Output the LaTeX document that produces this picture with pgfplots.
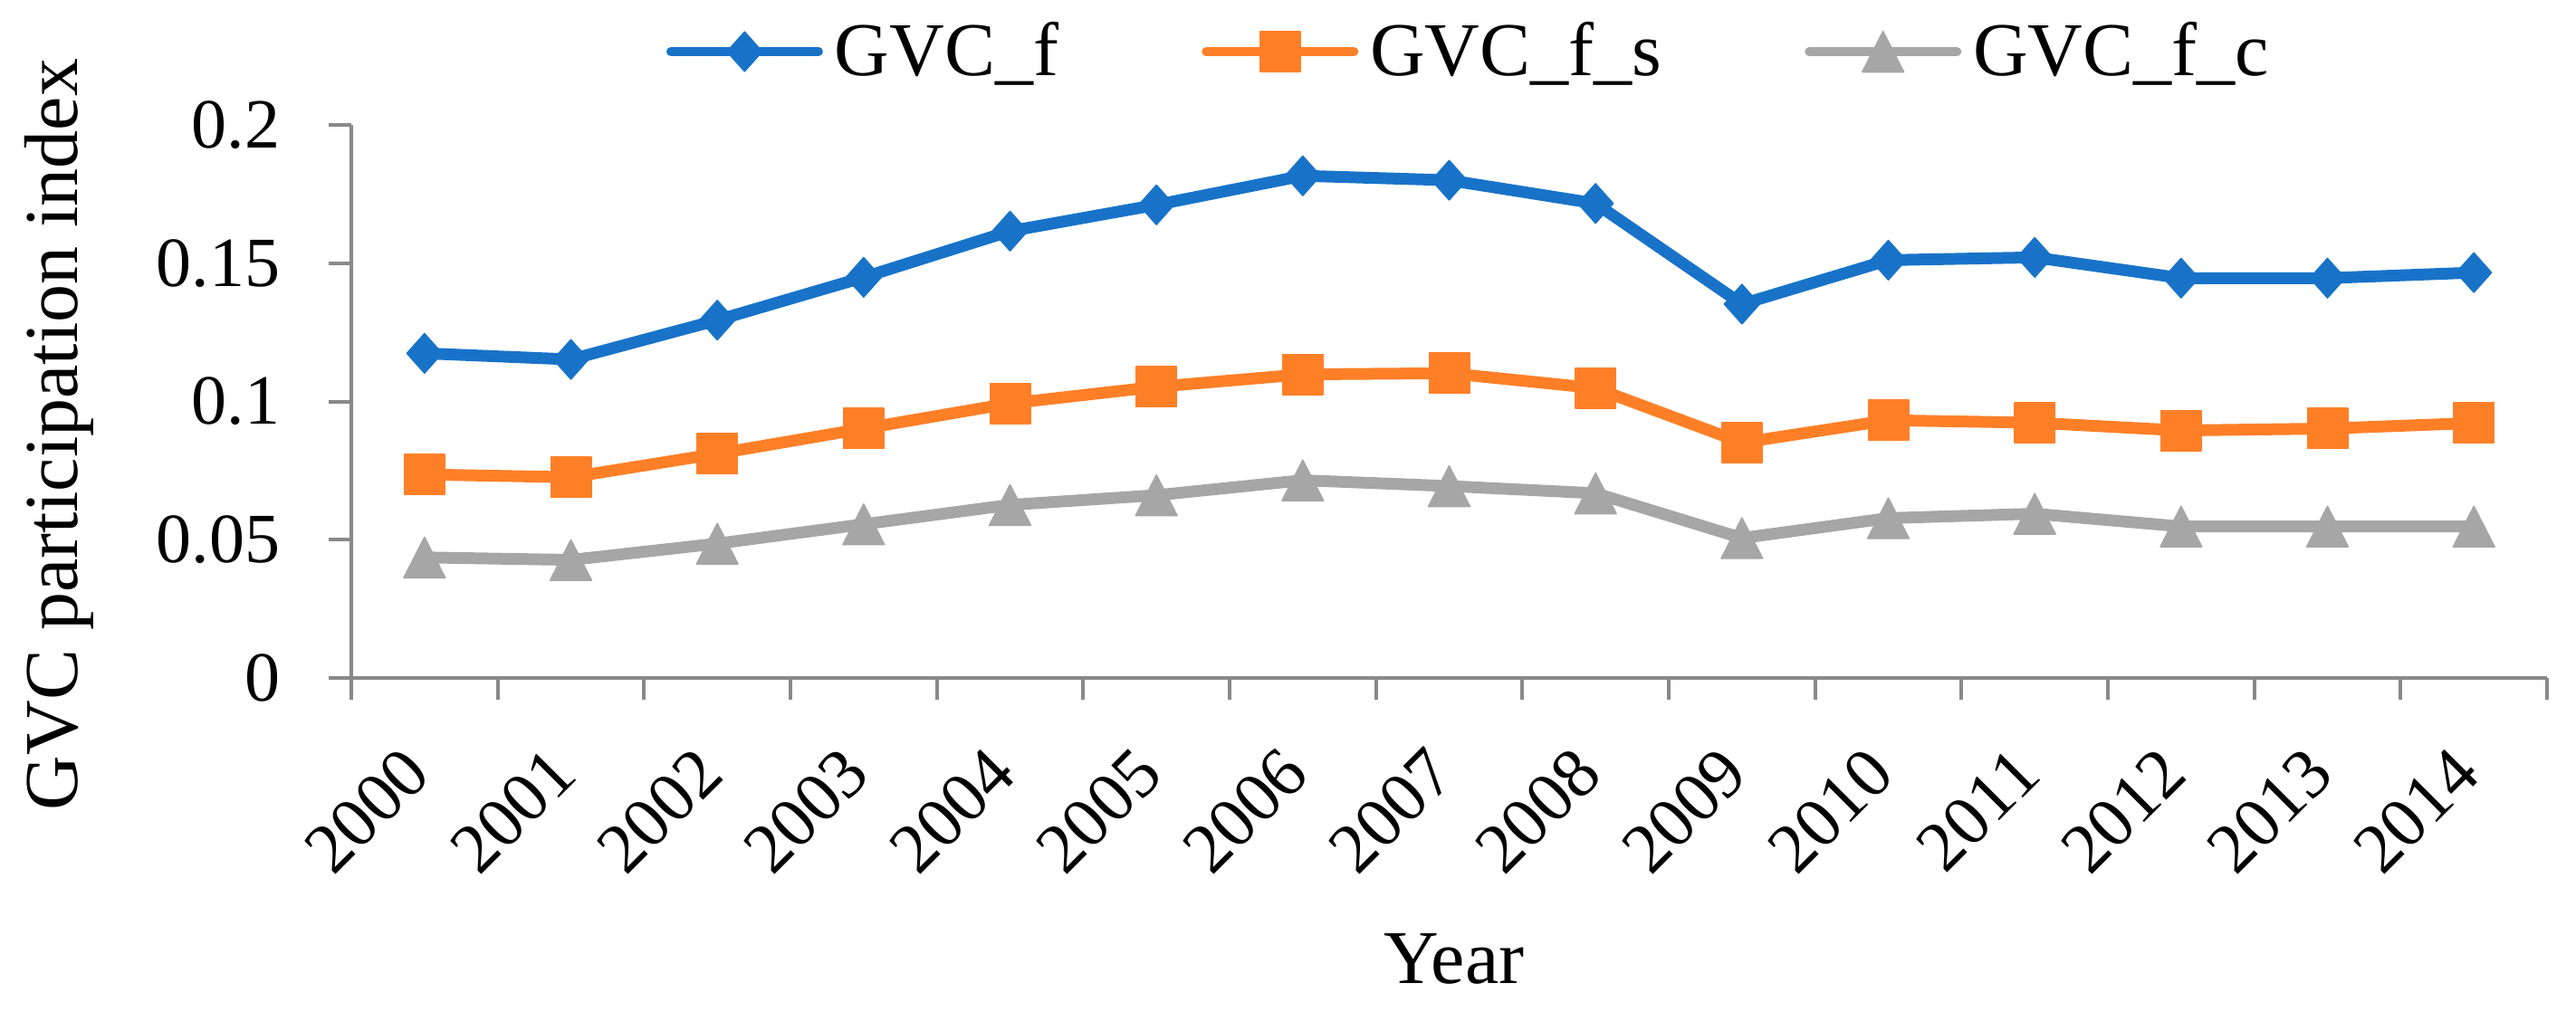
\documentclass[border=0pt]{standalone}
\usepackage{fontspec}
\setmainfont{Liberation Serif}
\usepackage{pgfplots}
\pgfplotsset{compat=1.18}
\definecolor{cblue}{RGB}{24,115,200}
\definecolor{corange}{RGB}{255,127,39}
\definecolor{cgray}{RGB}{166,166,166}
\definecolor{caxis}{RGB}{137,137,137}
\newcommand\cf{\fontsize{21}{25}\selectfont}
\newcommand\tf{\fontsize{19.5}{23}\selectfont}
\begin{document}
\begin{tikzpicture}
\useasboundingbox (0,0) rectangle (711.25pt,279.25pt);
\begin{axis}[
  at={(97pt,92pt)}, anchor=south west,
  scale only axis, width=606.25pt, height=152.75pt,
  xmin=-0.5, xmax=14.5, ymin=0, ymax=0.2,
  enlargelimits=false, clip=false,
  axis x line*=bottom, axis y line*=left,
  axis line style={caxis, line width=1pt, -},
  every tick/.style={caxis, line width=1pt},
  tick align=outside,
  major tick length=6.25pt, minor tick length=6pt,
  xtick={0,1,2,3,4,5,6,7,8,9,10,11,12,13,14},
  xticklabels={2000,2001,2002,2003,2004,2005,2006,2007,2008,2009,2010,2011,2012,2013,2014},
  major x tick style={draw=none},
  minor xtick={-0.5,0.5,1.5,2.5,3.5,4.5,5.5,6.5,7.5,8.5,9.5,10.5,11.5,12.5,13.5,14.5},
  minor x tick style={caxis, line width=1pt},
  ytick={0,0.05,0.1,0.15,0.2},
  yticklabels={0,0.05,0.1,0.15,0.2},
  /pgf/number format/assume math mode=true,
  xticklabel style={font=\tf, xshift=-2pt, yshift=-16.5pt, rotate=45, anchor=east, inner sep=0pt},
  yticklabel style={font=\tf, xshift=-13.25pt, anchor=east, inner sep=0pt},
  ylabel={GVC participation index},
  ylabel style={font=\cf, at={(axis description cs:-0.1332,0.4403)}, anchor=center},
  xlabel={Year},
  xlabel style={font=\cf, at={(axis description cs:0.5023,-0.5516)}, anchor=base},
  legend columns=3,
  legend style={draw=none, fill=none, font=\cf, at={(axis description cs:0.1382,1.1326)}, anchor=west,
    nodes={inner sep=0pt},
    /tikz/every odd column/.append style={column sep=3.25pt},
    /tikz/every even column/.append style={column sep=39.5pt}},
  legend image code/.code={\draw[#1, line width=2.5pt, line cap=round, mark repeat=2, mark phase=2] plot coordinates {(1.25pt,0pt) (21.6pt,0pt) (42pt,0pt)};},
]
\addplot[cblue, line width=3.25pt, line join=round, mark=diamond*, mark size=5.43pt,
  mark options={solid, xscale=1.19, fill=cblue, draw=cblue, line width=0.4pt}]
  coordinates {(0,0.1174) (1,0.1152) (2,0.1294) (3,0.1449) (4,0.1616) (5,0.1711) (6,0.1816) (7,0.1800) (8,0.1716) (9,0.1352) (10,0.1511) (11,0.1521) (12,0.1446) (13,0.1446) (14,0.1466)};
\addlegendentry{GVC\_f}
\addplot[corange, line width=3.25pt, line join=round, mark=square*, mark size=5.55pt,
  mark options={solid, fill=corange, draw=corange, line width=0.4pt}]
  coordinates {(0,0.0736) (1,0.0726) (2,0.0811) (3,0.0902) (4,0.0993) (5,0.1053) (6,0.1098) (7,0.1102) (8,0.1048) (9,0.0851) (10,0.0932) (11,0.0923) (12,0.0895) (13,0.0902) (14,0.0922)};
\addlegendentry{GVC\_f\_s}
\addplot[cgray, line width=3.25pt, line join=round, mark=triangle*, mark size=6.6pt,
  mark options={solid, yshift=-1.9pt, yscale=1.13, fill=cgray, draw=cgray, line width=0.4pt}]
  coordinates {(0,0.0436) (1,0.0427) (2,0.0486) (3,0.0556) (4,0.0626) (5,0.0661) (6,0.0715) (7,0.0694) (8,0.0668) (9,0.0506) (10,0.0578) (11,0.0594) (12,0.0548) (13,0.0548) (14,0.0548)};
\addlegendentry{GVC\_f\_c}
\end{axis}
\end{tikzpicture}
\end{document}
